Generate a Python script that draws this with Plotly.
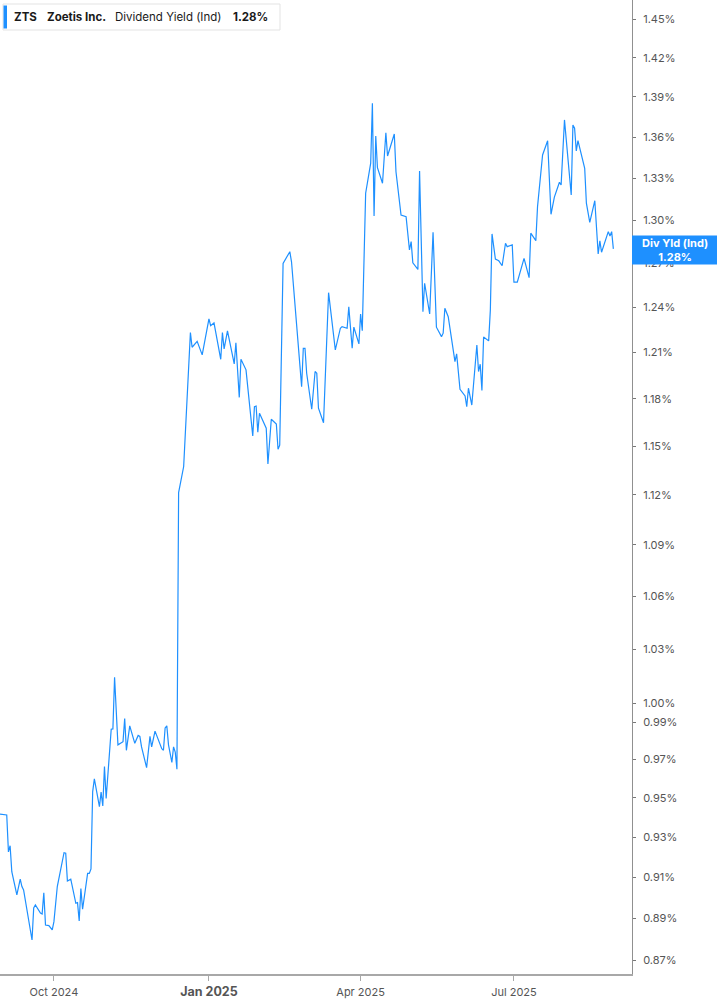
import plotly.graph_objects as go

# ---- data ----
dates = [
    "2024-08-30", "2024-09-03", "2024-09-04", "2024-09-05", "2024-09-06", "2024-09-09", "2024-09-11",
    "2024-09-12", "2024-09-13", "2024-09-18", "2024-09-19", "2024-09-20", "2024-09-23", "2024-09-24",
    "2024-09-25", "2024-09-26", "2024-09-28", "2024-09-30", "2024-10-01", "2024-10-03", "2024-10-07",
    "2024-10-08", "2024-10-09", "2024-10-11", "2024-10-14", "2024-10-15", "2024-10-16", "2024-10-17",
    "2024-10-18", "2024-10-21", "2024-10-22", "2024-10-23", "2024-10-24", "2024-10-25", "2024-10-28",
    "2024-10-29", "2024-10-30", "2024-10-31", "2024-11-01", "2024-11-04", "2024-11-05", "2024-11-06",
    "2024-11-08", "2024-11-11", "2024-11-12", "2024-11-13", "2024-11-15", "2024-11-18", "2024-11-20",
    "2024-11-21", "2024-11-22", "2024-11-25", "2024-11-27", "2024-11-28", "2024-11-30", "2024-12-04",
    "2024-12-05", "2024-12-06", "2024-12-07", "2024-12-08", "2024-12-10", "2024-12-11", "2024-12-12",
    "2024-12-13", "2024-12-14", "2024-12-17", "2024-12-21", "2024-12-22", "2024-12-25", "2024-12-28",
    "2025-01-01", "2025-01-02", "2025-01-04", "2025-01-08", "2025-01-09", "2025-01-10", "2025-01-12",
    "2025-01-16", "2025-01-17", "2025-01-19", "2025-01-20", "2025-01-22", "2025-01-23", "2025-01-27",
    "2025-01-28", "2025-01-29", "2025-01-30", "2025-01-31", "2025-02-04", "2025-02-05", "2025-02-07",
    "2025-02-10", "2025-02-11", "2025-02-12", "2025-02-14", "2025-02-18", "2025-02-19", "2025-02-25",
    "2025-02-26", "2025-02-27", "2025-02-28", "2025-03-03", "2025-03-05", "2025-03-06", "2025-03-07",
    "2025-03-10", "2025-03-13", "2025-03-17", "2025-03-20", "2025-03-21", "2025-03-24", "2025-03-25",
    "2025-03-27", "2025-03-28", "2025-03-31", "2025-04-01", "2025-04-02", "2025-04-04", "2025-04-07",
    "2025-04-08", "2025-04-09", "2025-04-10", "2025-04-11", "2025-04-14", "2025-04-16", "2025-04-17",
    "2025-04-21", "2025-04-22", "2025-04-25", "2025-04-28", "2025-04-30", "2025-05-01", "2025-05-02",
    "2025-05-05", "2025-05-06", "2025-05-08", "2025-05-09", "2025-05-12", "2025-05-14", "2025-05-16",
    "2025-05-19", "2025-05-20", "2025-05-21", "2025-05-23", "2025-05-27", "2025-05-28", "2025-05-30",
    "2025-06-02", "2025-06-03", "2025-06-04", "2025-06-06", "2025-06-09", "2025-06-10", "2025-06-11",
    "2025-06-12", "2025-06-13", "2025-06-16", "2025-06-17", "2025-06-18", "2025-06-20", "2025-06-22",
    "2025-06-24", "2025-06-26", "2025-06-27", "2025-06-30", "2025-07-01", "2025-07-03", "2025-07-07",
    "2025-07-10", "2025-07-11", "2025-07-14", "2025-07-15", "2025-07-18", "2025-07-21", "2025-07-23",
    "2025-07-25", "2025-07-28", "2025-07-29", "2025-07-31", "2025-08-04", "2025-08-05", "2025-08-06",
    "2025-08-07", "2025-08-08", "2025-08-12", "2025-08-13", "2025-08-15", "2025-08-18", "2025-08-20",
    "2025-08-21", "2025-08-22", "2025-08-26", "2025-08-27", "2025-08-28", "2025-08-29",
]

div_yield = [
    0.9417, 0.9413, 0.9226, 0.9257, 0.9127, 0.9013, 0.9091,
    0.9054, 0.9037, 0.8795, 0.8949, 0.8964, 0.8925, 0.8920,
    0.9023, 0.8867, 0.8864, 0.8843, 0.8883, 0.9054, 0.9222,
    0.9219, 0.9081, 0.9090, 0.8972, 0.8975, 0.8886, 0.9044,
    0.8943, 0.9119, 0.9119, 0.9141, 0.9533, 0.9599, 0.9455,
    0.9530, 0.9459, 0.9663, 0.9498, 0.9861, 0.9863, 1.0144,
    0.9778, 0.9795, 0.9919, 0.9749, 0.9879, 0.9786, 0.9828,
    0.9823, 0.9767, 0.9658, 0.9823, 0.9767, 0.9851, 0.9758,
    0.9749, 0.9868, 0.9879, 0.9778, 0.9685, 0.9767, 0.9740,
    0.9649, 1.1213, 1.1373, 1.2231, 1.2134, 1.2173, 1.2084,
    1.2322, 1.2277, 1.2295, 1.2055, 1.2231, 1.2123, 1.2242,
    1.2025, 1.2164, 1.1808, 1.2055, 1.2003, 1.1986, 1.1563,
    1.1749, 1.1753, 1.1587, 1.1707, 1.1612, 1.1389, 1.1669,
    1.1639, 1.1480, 1.1506, 1.2699, 1.2780, 1.2710, 1.1877,
    1.2127, 1.2127, 1.1964, 1.1732, 1.1975, 1.1964, 1.1739,
    1.1647, 1.2499, 1.2116, 1.2260, 1.2271, 1.2260, 1.2403,
    1.2127, 1.2267, 1.2156, 1.2355, 1.2244, 1.3192, 1.3409,
    1.3852, 1.3030, 1.3608, 1.3377, 1.3264, 1.3633, 1.3462,
    1.3623, 1.3347, 1.3037, 1.3025, 1.2792, 1.2850, 1.2703,
    1.2658, 1.3353, 1.2370, 1.2563, 1.2355, 1.2916, 1.2267,
    1.2204, 1.2227, 1.2393, 1.2337, 1.2040, 1.2090, 1.1860,
    1.1817, 1.1749, 1.1867, 1.1759, 1.2149, 1.1975, 1.2023,
    1.1853, 1.2202, 1.2176, 1.2381, 1.2904, 1.2729, 1.2717,
    1.2683, 1.2839, 1.2815, 1.2827, 1.2570, 1.2570, 1.2734,
    1.2601, 1.2909, 1.2857, 1.3096, 1.3469, 1.3574, 1.3042,
    1.3164, 1.3271, 1.3251, 1.3728, 1.3180, 1.3690, 1.3666,
    1.3499, 1.3574, 1.3372, 1.3121, 1.2985, 1.3139, 1.2764,
    1.2855, 1.2776, 1.2920, 1.2890, 1.2920, 1.2800,
]

y_tick_vals = [0.87, 0.89, 0.91, 0.93, 0.95, 0.97, 0.99, 1.00, 1.03, 1.06, 1.09,
               1.12, 1.15, 1.18, 1.21, 1.24, 1.27, 1.30, 1.33, 1.36, 1.39, 1.42, 1.45]
y_tick_text = [f"{v:.2f}%" for v in y_tick_vals]

x_tick_vals = ["2024-10-01", "2025-01-01", "2025-04-01", "2025-07-01"]
x_tick_text = ["Oct 2024", "<b><span style='font-size:12.5px'>Jan 2025</span></b>", "Apr 2025", "Jul 2025"]

ticker = "ZTS"
company = "Zoetis Inc."
metric = "Dividend Yield (Ind)"
metric_short = "Div Yld (Ind)"
last_value = div_yield[-1]

# ---- figure ----
W, H = 717, 1005
ML, MR, MT, MB = 0, 85, 0, 31
PW, PH = W - ML - MR, H - MT - MB
BLUE = "#1E90FF"
FONT = "Inter, Arial, sans-serif"


def px_x(px):
    return px / PW


def px_y(py):
    return (PH - py) / PH


fig = go.Figure()
fig.add_trace(go.Scatter(
    x=dates, y=div_yield, mode="lines",
    line=dict(color=BLUE, width=1.2),
    hoverinfo="skip", showlegend=False,
))

fig.update_layout(
    width=W, height=H,
    margin=dict(l=ML, r=MR, t=MT, b=MB, autoexpand=False),
    paper_bgcolor="white", plot_bgcolor="white",
    font=dict(family=FONT, size=11, color="#555555"),
    showlegend=False,
)

fig.update_xaxes(
    type="date",
    range=["2024-08-30", "2025-09-09 01:40"],
    tickvals=x_tick_vals, ticktext=x_tick_text,
    showgrid=False, zeroline=False,
    showline=True, linecolor="#a8a8a8", linewidth=2,
    ticks="outside", ticklen=5, tickcolor="#a8a8a8", tickwidth=1,
    tickfont=dict(size=11, color="#555555"),
    ticklabelstandoff=2,
)

fig.update_yaxes(
    type="log",
    range=[-0.063782, 0.165881],
    side="right",
    tickvals=y_tick_vals, ticktext=y_tick_text,
    showgrid=False, zeroline=False,
    showline=True, linecolor="#909090", linewidth=1,
    ticks="outside", ticklen=3, tickcolor="#777777", tickwidth=1,
    tickfont=dict(size=11, color="#555555"),
    ticklabelstandoff=5,
)

# header box
fig.add_shape(type="rect", xref="paper", yref="paper",
              x0=px_x(3), x1=px_x(280), y0=px_y(30), y1=px_y(4),
              line=dict(color="#e3e3e3", width=1), fillcolor="white", layer="above")
fig.add_shape(type="rect", xref="paper", yref="paper",
              x0=px_x(3.5), x1=px_x(7), y0=px_y(28.5), y1=px_y(5.5),
              line=dict(width=0), fillcolor=BLUE, layer="above")

header_parts = [
    (12, f"<b>{ticker}</b>"),
    (45, f"<b>{company}</b>"),
    (113, metric),
    (231, f"<b>{last_value:.2f}%</b>"),
]
for xpx, txt in header_parts:
    fig.add_annotation(xref="paper", yref="paper", x=px_x(xpx), y=px_y(17),
                       xanchor="left", yanchor="middle", text=txt, showarrow=False,
                       font=dict(family=FONT, size=11.5, color="#1a1a1a"))

# right-hand value label
fig.add_shape(type="rect", xref="paper", yref="paper",
              x0=1.0, x1=(PW + MR) / PW, y0=px_y(264.5), y1=px_y(235.5),
              line=dict(width=0), fillcolor=BLUE, layer="above")
fig.add_annotation(xref="paper", yref="paper", x=px_x(675), y=px_y(250),
                   xanchor="center", yanchor="middle",
                   text=f"<b>{metric_short}</b><br><b>{last_value:.2f}%</b>",
                   showarrow=False, align="center",
                   font=dict(family=FONT, size=11, color="white"))

fig.write_html("out.html", config={"displayModeBar": False},
               post_script="document.body.style.margin='0';")
